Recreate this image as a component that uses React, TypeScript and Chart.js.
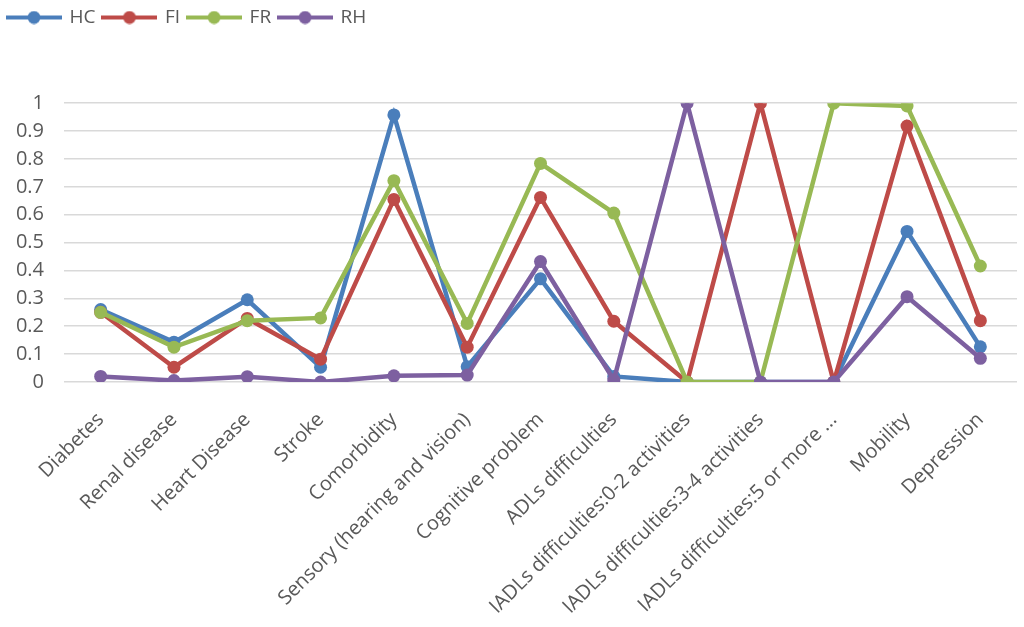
import React, { useEffect, useRef } from "react";
import { Chart, registerables } from "chart.js";

Chart.register(...registerables);

const categories = [
  "Diabetes",
  "Renal disease",
  "Heart Disease",
  "Stroke",
  "Comorbidity",
  "Sensory (hearing and vision)",
  "Cognitive problem",
  "ADLs difficulties",
  "IADLs difficulties:0-2 activities",
  "IADLs difficulties:3-4 activities",
  "IADLs difficulties:5 or more ...",
  "Mobility",
  "Depression",
];

const hcValues = [0.26, 0.143, 0.295, 0.053, 0.958, 0.055, 0.37, 0.02, 0, 0, 0, 0.54, 0.126];
const fiValues = [0.25, 0.053, 0.228, 0.082, 0.655, 0.125, 0.662, 0.218, 0, 1.0, 0, 0.918, 0.22];
const frValues = [0.25, 0.125, 0.22, 0.23, 0.722, 0.21, 0.784, 0.606, 0, 0, 1.0, 0.99, 0.416];
const rhValues = [0.02, 0.005, 0.019, 0, 0.022, 0.025, 0.432, 0.007, 1.0, 0, 0, 0.306, 0.085];

const seriesNames = ["HC", "FI", "FR", "RH"];
const seriesColors = ["#4A7EBB", "#BE4B48", "#98B954", "#7D60A0"];

const TEXT = "#595959";
const FONT = "'Open Sans', 'Noto Sans', sans-serif";

function legendImage(color: string): HTMLCanvasElement {
  const c = document.createElement("canvas");
  c.width = 56;
  c.height = 14;
  const ctx = c.getContext("2d")!;
  ctx.strokeStyle = color;
  ctx.lineWidth = 4;
  ctx.beginPath();
  ctx.moveTo(0, 7);
  ctx.lineTo(56, 7);
  ctx.stroke();
  ctx.fillStyle = color;
  ctx.beginPath();
  ctx.arc(28, 7, 6.5, 0, Math.PI * 2);
  ctx.fill();
  return c;
}

export default function App() {
  const ref = useRef<HTMLCanvasElement | null>(null);

  useEffect(() => {
    if (!ref.current) return;
    const values = [hcValues, fiValues, frValues, rhValues];
    const images = seriesColors.map(legendImage);
    const chart = new Chart(ref.current, {
      type: "line",
      data: {
        labels: categories,
        datasets: seriesNames.map((name, i) => ({
          label: name,
          data: values[i],
          borderColor: seriesColors[i],
          backgroundColor: seriesColors[i],
          pointBackgroundColor: seriesColors[i],
          pointBorderColor: seriesColors[i],
          borderWidth: 4.5,
          pointRadius: 6.5,
          pointBorderWidth: 0,
          pointStyle: "circle",
          tension: 0,
          fill: false,
          order: 4 - i,
        })),
      },
      options: {
        animation: false,
        responsive: true,
        maintainAspectRatio: false,
        layout: { padding: { top: 0, right: 7, left: 0, bottom: 0 } },
        plugins: {
          tooltip: { enabled: false },
          title: {
            display: true,
            text: "",
            position: "top",
            weight: 500,
            font: { size: 1 },
            padding: { top: 65, bottom: 0 },
          },
          legend: {
            position: "top",
            align: "start",
            labels: {
              usePointStyle: true,
              pointStyleWidth: 52,
              padding: 8,
              color: TEXT,
              font: { family: FONT, size: 19 },
              generateLabels: (ch: any) =>
                ch.data.datasets.map((ds: any, i: number) => ({
                  text: ds.label,
                  fillStyle: seriesColors[i],
                  strokeStyle: seriesColors[i],
                  fontColor: TEXT,
                  lineWidth: 0,
                  pointStyle: images[i],
                  hidden: false,
                  datasetIndex: i,
                })),
            },
          },
        },
        scales: {
          x: {
            offset: true,
            afterFit: (s: any) => {
              s.height = 245;
            },
            grid: { display: false, drawTicks: false, offset: true },
            border: { display: false },
            ticks: {
              autoSkip: false,
              maxRotation: 45,
              minRotation: 45,
              padding: 26,
              color: TEXT,
              font: { family: FONT, size: 20 },
            },
          },
          y: {
            min: 0,
            max: 1,
            afterFit: (s: any) => {
              s.width = 64;
            },
            grid: { color: "#D9D9D9", lineWidth: 1.5, drawTicks: false },
            border: { display: false },
            ticks: {
              stepSize: 0.1,
              padding: 20,
              color: TEXT,
              font: { family: FONT, size: 20 },
              callback: (v: any) => String(Math.round(Number(v) * 10) / 10),
            },
          },
        },
      },
    });
    return () => chart.destroy();
  }, []);

  return (
    <div style={{ position: "absolute", left: 0, top: 0, width: 1024, height: 627, background: "#fff" }}>
      <canvas ref={ref} />
    </div>
  );
}
